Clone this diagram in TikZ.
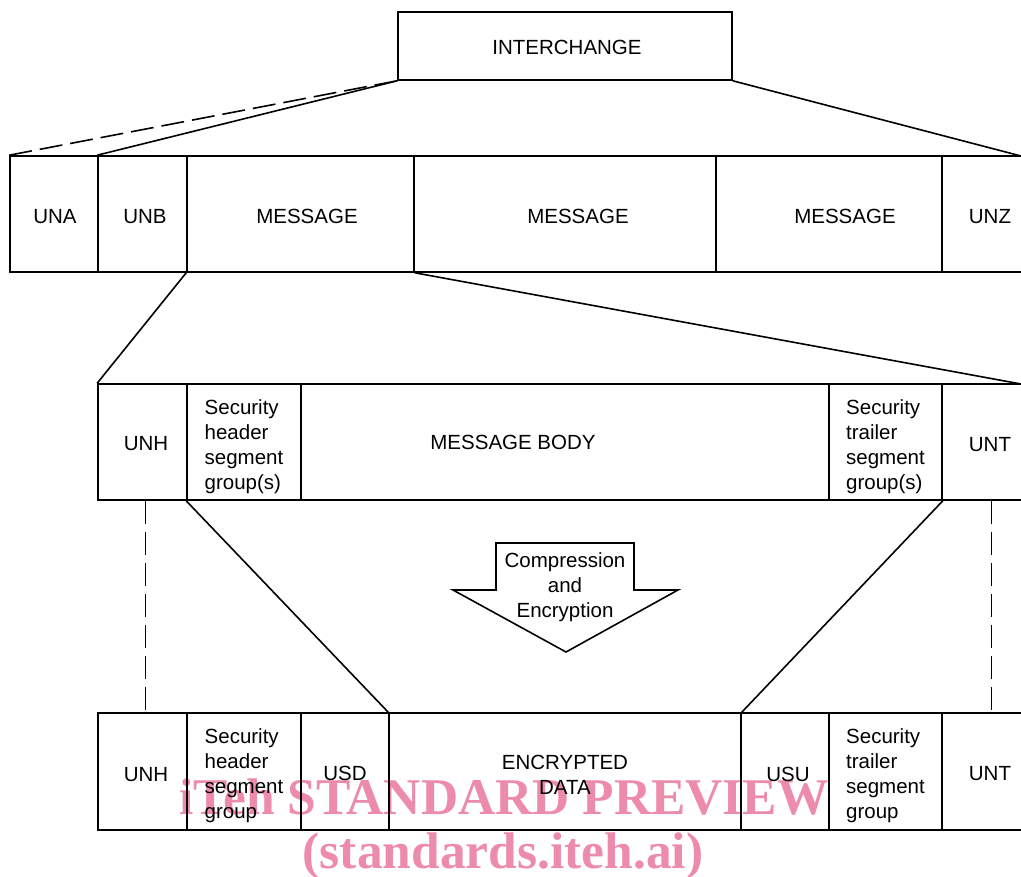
\documentclass[tikz,border=0pt]{standalone}
\usepackage{fontspec}
\setmainfont{Liberation Sans}
\newfontfamily\wmfont{Liberation Serif}
\usetikzlibrary{calc}
\definecolor{wmpink}{RGB}{237,140,170}
\begin{document}
\begin{tikzpicture}[x=1pt,y=-1pt, line width=1.6pt,
  lbl/.style={font=\fontsize{20.5}{25}\selectfont, inner sep=0pt, align=left},
  cell/.style={draw, line width=1.6pt, inner sep=0pt},
  r1/.style={cell, minimum height=116pt},
  r2/.style={cell, minimum height=116pt},
  r3/.style={cell, minimum height=117pt},
  dashline/.style={dash pattern=on 23pt off 8pt},
  wm/.style={text=wmpink, font=\wmfont\bfseries\fontsize{51.5}{60}\selectfont, inner sep=0pt, anchor=base}]
\useasboundingbox (0,0) rectangle (1021,877);
\clip (0,0) rectangle (1021,877);

% watermark
\node[wm] (wm1) at (504,814) {iTeh STANDARD PREVIEW};
\node[wm] (wm2) at (503,868) {(standards.iteh.ai)};

% top
\node[cell, minimum width=334pt, minimum height=68pt] (ic) at (565,46) {};
\node[lbl] (ict) at (567,47.5) {INTERCHANGE};

% row 1
\node[r1, minimum width=88pt]  (una)  at (54,214)    {};
\node[r1, minimum width=89pt]  (unb)  at (142.5,214) {};
\node[r1, minimum width=227pt] (msga) at (300.5,214) {};
\node[r1, minimum width=302pt] (msgb) at (565,214)   {};
\node[r1, minimum width=226pt] (msgc) at (829,214)   {};
\node[r1, minimum width=96pt]  (unz)  at (990,214)   {};
\node[lbl] (unat) at (55,216.5) {UNA};
\node[lbl] (unbt) at (145,216.5) {UNB};
\node[lbl] (msgat) at (307,216) {MESSAGE};
\node[lbl] (msgbt) at (578,216) {MESSAGE};
\node[lbl] (msgct) at (845,216) {MESSAGE};
\node[lbl] (unzt) at (990,216.5) {UNZ};

% row 2
\node[r2, minimum width=89pt]  (unh)  at (142.5,442) {};
\node[r2, minimum width=114pt] (shg)  at (244,442)   {};
\node[r2, minimum width=528pt] (body) at (565,442)   {};
\node[r2, minimum width=113pt] (stg)  at (885.5,442) {};
\node[r2, minimum width=96pt]  (unt)  at (990,442)   {};
\node[lbl] (unht) at (146,444) {UNH};
\node[lbl] (shgt) at (244,447) {Security\\header\\segment\\group(s)};
\node[lbl] (bodyt) at (513,442.5) {MESSAGE BODY};
\node[lbl] (stgt) at (885.5,446.5) {Security\\trailer\\segment\\group(s)};
\node[lbl] (untt) at (990,445) {UNT};

% row 3
\node[r3, minimum width=89pt]  (unh2) at (142.5,771.5) {};
\node[r3, minimum width=114pt] (shg2) at (244,771.5)   {};
\node[r3, minimum width=88pt]  (usd)  at (345,771.5)   {};
\node[r3, minimum width=352pt] (enc)  at (565,771.5)   {};
\node[r3, minimum width=88pt]  (usu)  at (785,771.5)   {};
\node[r3, minimum width=113pt] (stg2) at (885.5,771.5) {};
\node[r3, minimum width=96pt]  (unt2) at (990,771.5)   {};
\node[lbl] (unh2t) at (146,775) {UNH};
\node[lbl] (shg2t) at (244,776) {Security\\header\\segment\\group};
\node[lbl] (usdt) at (345,773.5) {USD};
\node[lbl, align=center] (enct) at (565,775) {ENCRYPTED\\DATA};
\node[lbl] (usut) at (788,774) {USU};
\node[lbl] (stg2t) at (885.5,775.5) {Security\\trailer\\segment\\group};
\node[lbl] (unt2t) at (990,773.5) {UNT};

% arrow
\draw[fill=white] (496,543) -- (634,543) -- (634,590) -- (678,590) -- (566,652)
  -- (453,590) -- (496,590) -- cycle;
\node[lbl, align=center] (ce) at (565,587) {Compression\\and\\Encryption};

% connectors
\coordinate (rc1) at (1021,156);
\coordinate (rc2) at (1021,384);
\draw[dashline] (ic.south west) -- (una.north west);
\draw (ic.south west) -- (unb.north west);
\draw (ic.south east) -- (rc1);
\draw (msga.south west) -- (unh.north west);
\draw (msga.south east) -- (rc2);
\draw (shg.south west) -- (enc.north west);
\draw (stg.south east) -- (enc.north east);
\draw[dashline] ($(unh.south)+(3,0)$) -- ($(unh2.north)+(3,0)$);
\draw[dashline] ($(unt.south)+(1.5,0)$) -- ($(unt2.north)+(1.5,0)$);
\end{tikzpicture}
\end{document}
